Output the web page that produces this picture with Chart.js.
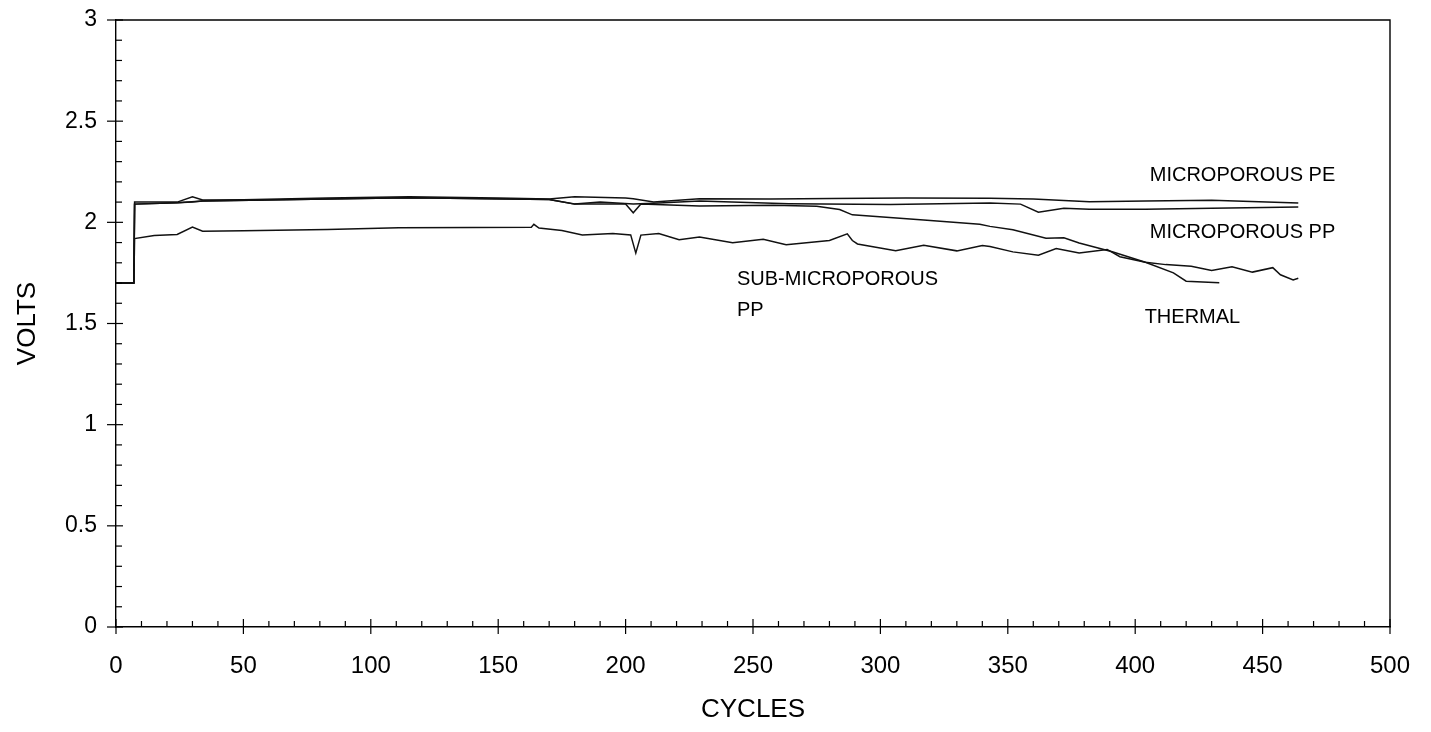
<!DOCTYPE html>
<html>
<head>
<meta charset="utf-8">
<script src="https://cdn.jsdelivr.net/npm/chart.js@4/dist/chart.umd.min.js"></script>
<style>
html,body{margin:0;padding:0;background:#fff;}
#wrap{width:1431px;height:732px;}
</style>
</head>
<body>
<div id="wrap"><canvas id="c" width="1431" height="732"></canvas></div>
<script>
// ---- data (cycles / volts) ----
const peCycles = [0,7,7.3,15,24,30,34,50,83,115,150,170,180,200,203,211,229,257,281,310,343,360,382,404,430,464];
const peVolts  = [1.70,1.70,2.10,2.10,2.10,2.126,2.11,2.112,2.12,2.126,2.12,2.115,2.126,2.12,2.116,2.10,2.116,2.115,2.118,2.12,2.119,2.115,2.102,2.105,2.109,2.096];

const ppCycles = [0,7,7.3,24,30,34,83,115,170,180,190,203,211,229,264,304,343,355,362,372,382,404,430,464];
const ppVolts  = [1.70,1.70,2.09,2.097,2.10,2.105,2.115,2.122,2.113,2.091,2.10,2.09,2.094,2.105,2.092,2.088,2.095,2.09,2.050,2.07,2.065,2.065,2.07,2.076];

const thermalCycles = [0,7,7.3,24,34,83,115,170,180,200,203,206,229,258,275,284,289,317,339,343,352,365,372,378,391,404,415,420,433];
const thermalVolts  = [1.70,1.70,2.09,2.097,2.105,2.115,2.122,2.113,2.09,2.09,2.047,2.09,2.081,2.084,2.08,2.063,2.037,2.011,1.99,1.98,1.963,1.921,1.924,1.898,1.855,1.803,1.750,1.709,1.702];

const subCycles = [0,7,7.3,15,24,30,34,50,83,111,140,163,164,166,175,183,195,202,204,206,213,221,229,242,254,263,280,287,289,291,306,317,330,340,343,352,362,369,378,389,394,404,412,422,430,438,446,454,457,462,464];
const subVolts  = [1.70,1.70,1.92,1.935,1.94,1.977,1.956,1.958,1.965,1.973,1.975,1.976,1.99,1.972,1.96,1.937,1.945,1.938,1.848,1.937,1.945,1.914,1.927,1.899,1.916,1.889,1.910,1.943,1.91,1.893,1.86,1.887,1.859,1.886,1.881,1.854,1.837,1.870,1.848,1.866,1.830,1.803,1.791,1.783,1.762,1.780,1.754,1.776,1.741,1.715,1.724];

const xTickLabels = [0,50,100,150,200,250,300,350,400,450,500];
const yTickLabels = [0,0.5,1,1.5,2,2.5,3];

// annotation texts and their anchor values (cycles, volts)
const annoTexts  = ["MICROPOROUS PE","MICROPOROUS PP","SUB-MICROPOROUS","PP","THERMAL"];
const annoCycles = [405.7,405.7,243.7,243.7,403.7];
const annoVolts  = [2.233,1.951,1.720,1.562,1.530];

function pts(xs, ys){ return xs.map((x,i)=>({x:x, y:ys[i]})); }

const FONT = '"Liberation Sans", Arial, sans-serif';
const lineStyle = {borderColor:'#111', borderWidth:1.5, pointRadius:0, tension:0, fill:false};

const decor = {
  id:'decor',
  afterDraw(chart){
    const {ctx, chartArea:a, scales:{x,y}} = chart;
    ctx.save();
    ctx.strokeStyle = '#000';
    ctx.lineWidth = 1.4;
    // frame (top & right)
    ctx.beginPath();
    ctx.moveTo(a.left, a.top); ctx.lineTo(a.right, a.top); ctx.lineTo(a.right, a.bottom);
    ctx.stroke();
    ctx.lineWidth = 1.2;
    // x ticks
    for (let v = 0; v <= 500; v += 10){
      const px = x.getPixelForValue(v);
      ctx.beginPath();
      if (v % 50 === 0){ ctx.moveTo(px, a.bottom + 7); ctx.lineTo(px, a.bottom - 8); }
      else { ctx.moveTo(px, a.bottom); ctx.lineTo(px, a.bottom - 6); }
      ctx.stroke();
    }
    // y ticks
    for (let i = 0; i <= 30; i++){
      const v = i / 10;
      const py = y.getPixelForValue(v);
      ctx.beginPath();
      if (i % 5 === 0){ ctx.moveTo(a.left - 9, py); ctx.lineTo(a.left + 7, py); }
      else { ctx.moveTo(a.left, py); ctx.lineTo(a.left + 6, py); }
      ctx.stroke();
    }
    // annotations
    ctx.fillStyle = '#000';
    ctx.font = '20px ' + FONT;
    ctx.textBaseline = 'middle';
    ctx.textAlign = 'left';
    annoTexts.forEach((t,i)=>{
      ctx.fillText(t, x.getPixelForValue(annoCycles[i]), y.getPixelForValue(annoVolts[i]));
    });
    ctx.restore();
  }
};

new Chart(document.getElementById('c'), {
  type:'line',
  data:{
    datasets:[
      Object.assign({label:'MICROPOROUS PE', data:pts(peCycles, peVolts)}, lineStyle),
      Object.assign({label:'MICROPOROUS PP', data:pts(ppCycles, ppVolts)}, lineStyle),
      Object.assign({label:'THERMAL', data:pts(thermalCycles, thermalVolts)}, lineStyle),
      Object.assign({label:'SUB-MICROPOROUS PP', data:pts(subCycles, subVolts)}, lineStyle)
    ]
  },
  options:{
    responsive:false,
    animation:false,
    layout:{padding:{left:0, right:41, top:20, bottom:0}},
    plugins:{legend:{display:false}, tooltip:{enabled:false}},
    scales:{
      x:{
        type:'linear', min:0, max:500,
        afterFit(s){ s.height = 105; s.paddingLeft = 0; s.paddingRight = 0; },
        afterBuildTicks(s){ s.ticks = xTickLabels.map(v=>({value:v})); },
        grid:{display:false, drawTicks:false},
        border:{display:true, color:'#000', width:1.4},
        ticks:{color:'#000', padding:25, maxRotation:0, font:{family:FONT, size:24},
               callback:(v)=>String(v)},
        title:{display:true, text:'CYCLES', color:'#000', font:{family:FONT, size:26}, padding:{top:0, bottom:7}}
      },
      y:{
        type:'linear', min:0, max:3,
        afterFit(s){ s.width = 116; s.paddingTop = 0; s.paddingBottom = 0; },
        afterBuildTicks(s){ s.ticks = yTickLabels.map(v=>({value:v})); },
        grid:{display:false, drawTicks:false},
        border:{display:true, color:'#000', width:1.4},
        ticks:{color:'#000', padding:19, font:{family:FONT, size:23},
               callback:(v)=>String(v)},
        title:{display:true, text:'VOLTS', color:'#000', font:{family:FONT, size:26}, padding:{top:12, bottom:0}}
      }
    }
  },
  plugins:[decor]
});
</script>
</body>
</html>
